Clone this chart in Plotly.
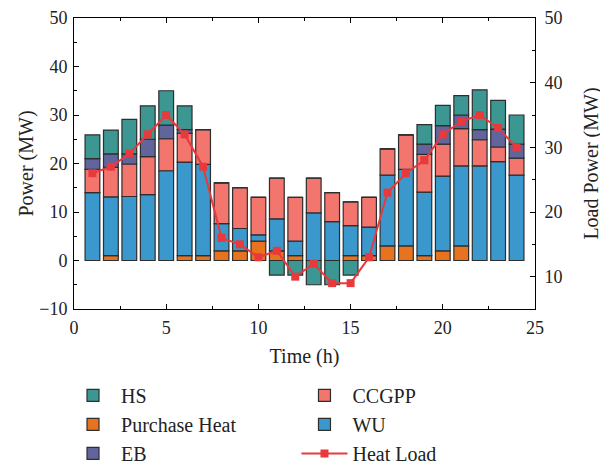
import plotly.graph_objects as go
from plotly.subplots import make_subplots

hours = list(range(1, 25))
purchase_heat = [0, 1, 0, 0, 0, 1, 1, 2, 2, 4, 2, 1, 0, 0, 1, 1, 3, 3, 1, 2, 3, 0, 0, 0]
wu = [14, 12.1, 13.2, 13.6, 18.5, 19.3, 18.8, 5.6, 4.6, 1.3, 6.6, 3, 9.8, 8, 6.2, 5.9,
      14.6, 15.8, 13.1, 15.4, 16.5, 19.5, 20.4, 17.6]
ccgpp = [4.8, 6.1, 6.7, 7.8, 6.6, 5.9, 7.2, 8.4, 8.4, 7.7, 8.4, 9, 7.2, 6, 4.9, 6.1,
         5.4, 7.1, 7.8, 6.6, 7.7, 5.4, 3, 3.5]
eb = [2.2, 2.8, 2.1, 3.6, 2.8, 0.8, 0, 0, 0, 0, 0, 0, 0, 0, 0, 0, 0, 0, 2.1, 3.8, 2.8, 2.1, 3.7, 2.9]
hs = [4.9, 4.9, 7.1, 6.9, 7.1, 4.9, 0, 0, 0, 0, -3, -3, -5, -5, -3, 0, 0, 0, 4, 4.2, 4, 8.2, 5.9, 6]
heat_load = [26, 27, 29, 32, 35, 32, 27, 16, 15, 13, 14, 10, 12, 9, 9, 13, 23, 26, 28, 32, 34, 35, 33, 30]

FONT = "Liberation Serif"
TXT = "#222"
EDGE = dict(color="#2e2e2e", width=1.2)

fig = make_subplots(specs=[[{"secondary_y": True}]])

bars = [
    ("Purchase Heat", purchase_heat, "#e8731f", "legend", 2),
    ("WU", wu, "#3a98cd", "legend2", 2),
    ("CCGPP", ccgpp, "#f2756e", "legend2", 1),
    ("EB", eb, "#62659b", "legend", 3),
    ("HS", hs, "#3c9691", "legend", 1),
]
for name, vals, col, leg, rank in bars:
    fig.add_trace(go.Bar(x=hours, y=vals, name=name, marker=dict(color=col, line=EDGE),
                         legend=leg, legendrank=rank, legendgroup=name),
                  secondary_y=False)

fig.add_trace(go.Scatter(x=hours, y=heat_load, name="Heat Load", mode="lines+markers",
                         line=dict(color="#e8393d", width=2),
                         marker=dict(symbol="square", size=8, color="#e8393d"),
                         legend="legend2", legendrank=3, legendgroup="Heat Load"),
              secondary_y=True)

axis_common = dict(showline=True, linecolor="black", linewidth=1, ticks="inside",
                   ticklen=5, tickcolor="black", showgrid=False, zeroline=False,
                   automargin=False, ticklabeloverflow="allow",
                   tickfont=dict(family=FONT, size=18, color=TXT))

fig.update_xaxes(range=[0, 25], tick0=0, dtick=5, mirror="ticks", domain=[0, 1],
                 ticklabelstandoff=2,
                 minor=dict(dtick=2.5, ticks="inside", ticklen=3, tickcolor="black"),
                 title=dict(text="Time (h)", font=dict(family=FONT, size=20, color=TXT), standoff=12),
                 **axis_common)
fig.update_yaxes(range=[-10, 50], tick0=0, dtick=10, secondary_y=False,
                 ticklabelstandoff=2,
                 minor=dict(dtick=5, ticks="inside", ticklen=3, tickcolor="black"),
                 title=dict(text="Power (MW)", font=dict(family=FONT, size=20, color=TXT), standoff=0),
                 **axis_common)
fig.update_yaxes(range=[5, 50], tick0=10, dtick=10, secondary_y=True,
                 ticklabelstandoff=5,
                 minor=dict(dtick=5, ticks="inside", ticklen=3, tickcolor="black"),
                 title=dict(text="Load Power (MW)", font=dict(family=FONT, size=20, color=TXT), standoff=22),
                 **axis_common)

leg_common = dict(orientation="v", traceorder="grouped", tracegroupgap=0,
                  font=dict(family=FONT, size=20, color=TXT), bgcolor="rgba(0,0,0,0)",
                  itemwidth=46, yanchor="top", xanchor="left")

fig.update_layout(
    width=600, height=458,
    margin=dict(l=66, r=73, t=10, b=157, autoexpand=False),
    barmode="relative", bargap=0.2,
    plot_bgcolor="white", paper_bgcolor="white",
    font=dict(family=FONT, size=18, color=TXT),
    legend=dict(x=-0.0195, y=-0.23, **leg_common),
    legend2=dict(x=0.4826, y=-0.23, **leg_common),
)

fig.write_html("out.html")
